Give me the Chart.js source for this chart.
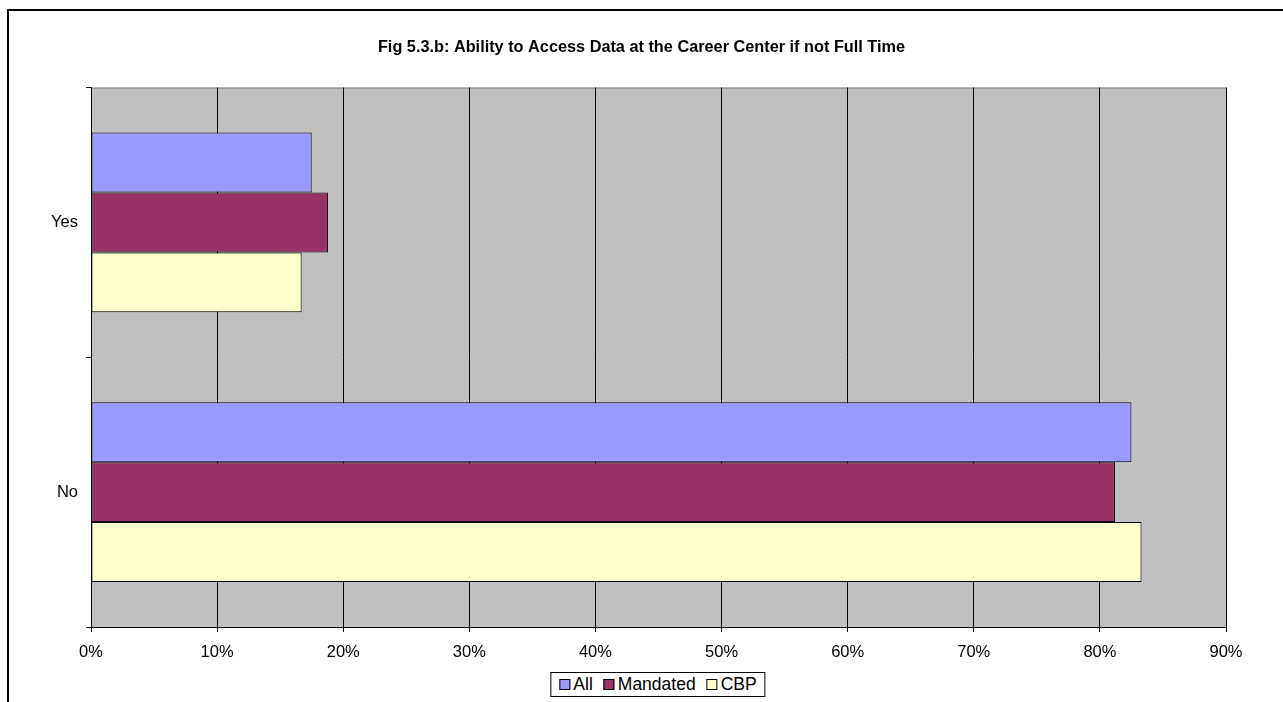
<!DOCTYPE html>
<html>
<head>
<meta charset="utf-8">
<script src="https://cdn.jsdelivr.net/npm/chart.js@4"></script>
<style>
  html, body { margin: 0; padding: 0; background: #fff; overflow: hidden; }
  #frame { position: absolute; left: 7px; top: 9px; width: 1290px; height: 710px; border: 2px solid #000; }
  #wrap { position: absolute; left: 0; top: 0; width: 1283px; height: 702px; }
  #legend { position: absolute; left: 658px; top: 672px; transform: translateX(-50%); border: 1px solid #000; background: #fff;
    font: 17.5px "Liberation Sans", Arial, sans-serif; padding: 2px 8px; white-space: nowrap; line-height: 19px; }
  #legend .item { margin-right: 11px; }
  #legend .item:last-child { margin-right: 0; }
  #legend span.sw { display: inline-block; width: 9px; height: 9px; border: 1px solid #000; margin: 0 3px 0 0; vertical-align: 0; }
</style>
</head>
<body>
<div id="frame"></div>
<div id="wrap"><canvas id="grafico" width="1283" height="702"></canvas></div>
<div id="legend"></div>
<script>
  // datos
  var categorias = ['Yes', 'No'];
  var serieAll = [17.5, 82.5];
  var serieMandated = [18.8, 81.2];
  var serieCBP = [16.7, 83.3];
  var nombres = ['All', 'Mandated', 'CBP'];
  var colores = ['#9999FF', '#993366', '#FFFFCC'];

  var fuente = '"Liberation Sans", Arial, sans-serif';

  // fondo gris del area de trazado
  var fondoPlot = {
    id: 'fondoPlot',
    beforeDraw: function (chart) {
      var a = chart.chartArea, c = chart.ctx;
      c.save();
      c.fillStyle = '#C0C0C0';
      c.fillRect(a.left, a.top, a.right - a.left, a.bottom - a.top);
      c.strokeStyle = '#808080';
      c.lineWidth = 1;
      c.strokeRect(a.left + 0.5, a.top + 0.5, a.right - a.left, a.bottom - a.top);
      c.restore();
    }
  };

  var series = [serieAll, serieMandated, serieCBP];
  var datasets = [];
  for (var i = 0; i < series.length; i++) {
    datasets.push({
      label: nombres[i],
      data: series[i],
      backgroundColor: colores[i],
      borderColor: '#000',
      borderWidth: 1,
      borderSkipped: false,
      categoryPercentage: 0.667,
      barPercentage: 1.0
    });
  }

  var ctx = document.getElementById('grafico').getContext('2d');
  var grafico = new Chart(ctx, {
    type: 'bar',
    data: { labels: categorias, datasets: datasets },
    plugins: [fondoPlot],
    options: {
      indexAxis: 'y',
      responsive: false,
      animation: false,
      layout: { padding: { left: 0, top: 0, right: 0, bottom: 40 } },
      plugins: {
        legend: { display: false },
        tooltip: { enabled: false },
        title: {
          display: true,
          text: 'Fig 5.3.b: Ability to Access Data at the Career Center if not Full Time',
          color: '#000',
          font: { family: fuente, size: 16.3, weight: 'bold', lineHeight: 1.2 },
          padding: { top: 38, bottom: 30 }
        }
      },
      scales: {
        x: {
          min: 0,
          max: 90,
          ticks: {
            stepSize: 10,
            color: '#000',
            font: { family: fuente, size: 16.5 },
            padding: 11,
            maxRotation: 0,
            callback: function (v) { return v + '%'; }
          },
          grid: { color: '#000', tickLength: 5, lineWidth: 1 },
          border: { color: '#000', width: 1 },
          afterFit: function (s) { s.height = 35; }
        },
        y: {
          offset: true,
          ticks: { color: '#000', font: { family: fuente, size: 16.5 }, padding: 8 },
          grid: { offset: true, drawOnChartArea: false, color: '#000', tickLength: 5 },
          border: { color: '#000', width: 1 },
          afterFit: function (s) { s.width = 91; }
        },
        // eje vacio a la derecha: deja el margen y mantiene el titulo centrado
        yDer: {
          type: 'category',
          position: 'right',
          grid: { display: false },
          border: { display: false },
          ticks: { display: false },
          afterFit: function (s) { s.width = 57; }
        }
      }
    }
  });

  // leyenda
  var ley = document.getElementById('legend');
  var html = '';
  for (var j = 0; j < nombres.length; j++) {
    html += '<span class="item"><span class="sw" style="background:' + colores[j] + '"></span>' + nombres[j] + '</span>';
  }
  ley.innerHTML = html;
</script>
</body>
</html>
